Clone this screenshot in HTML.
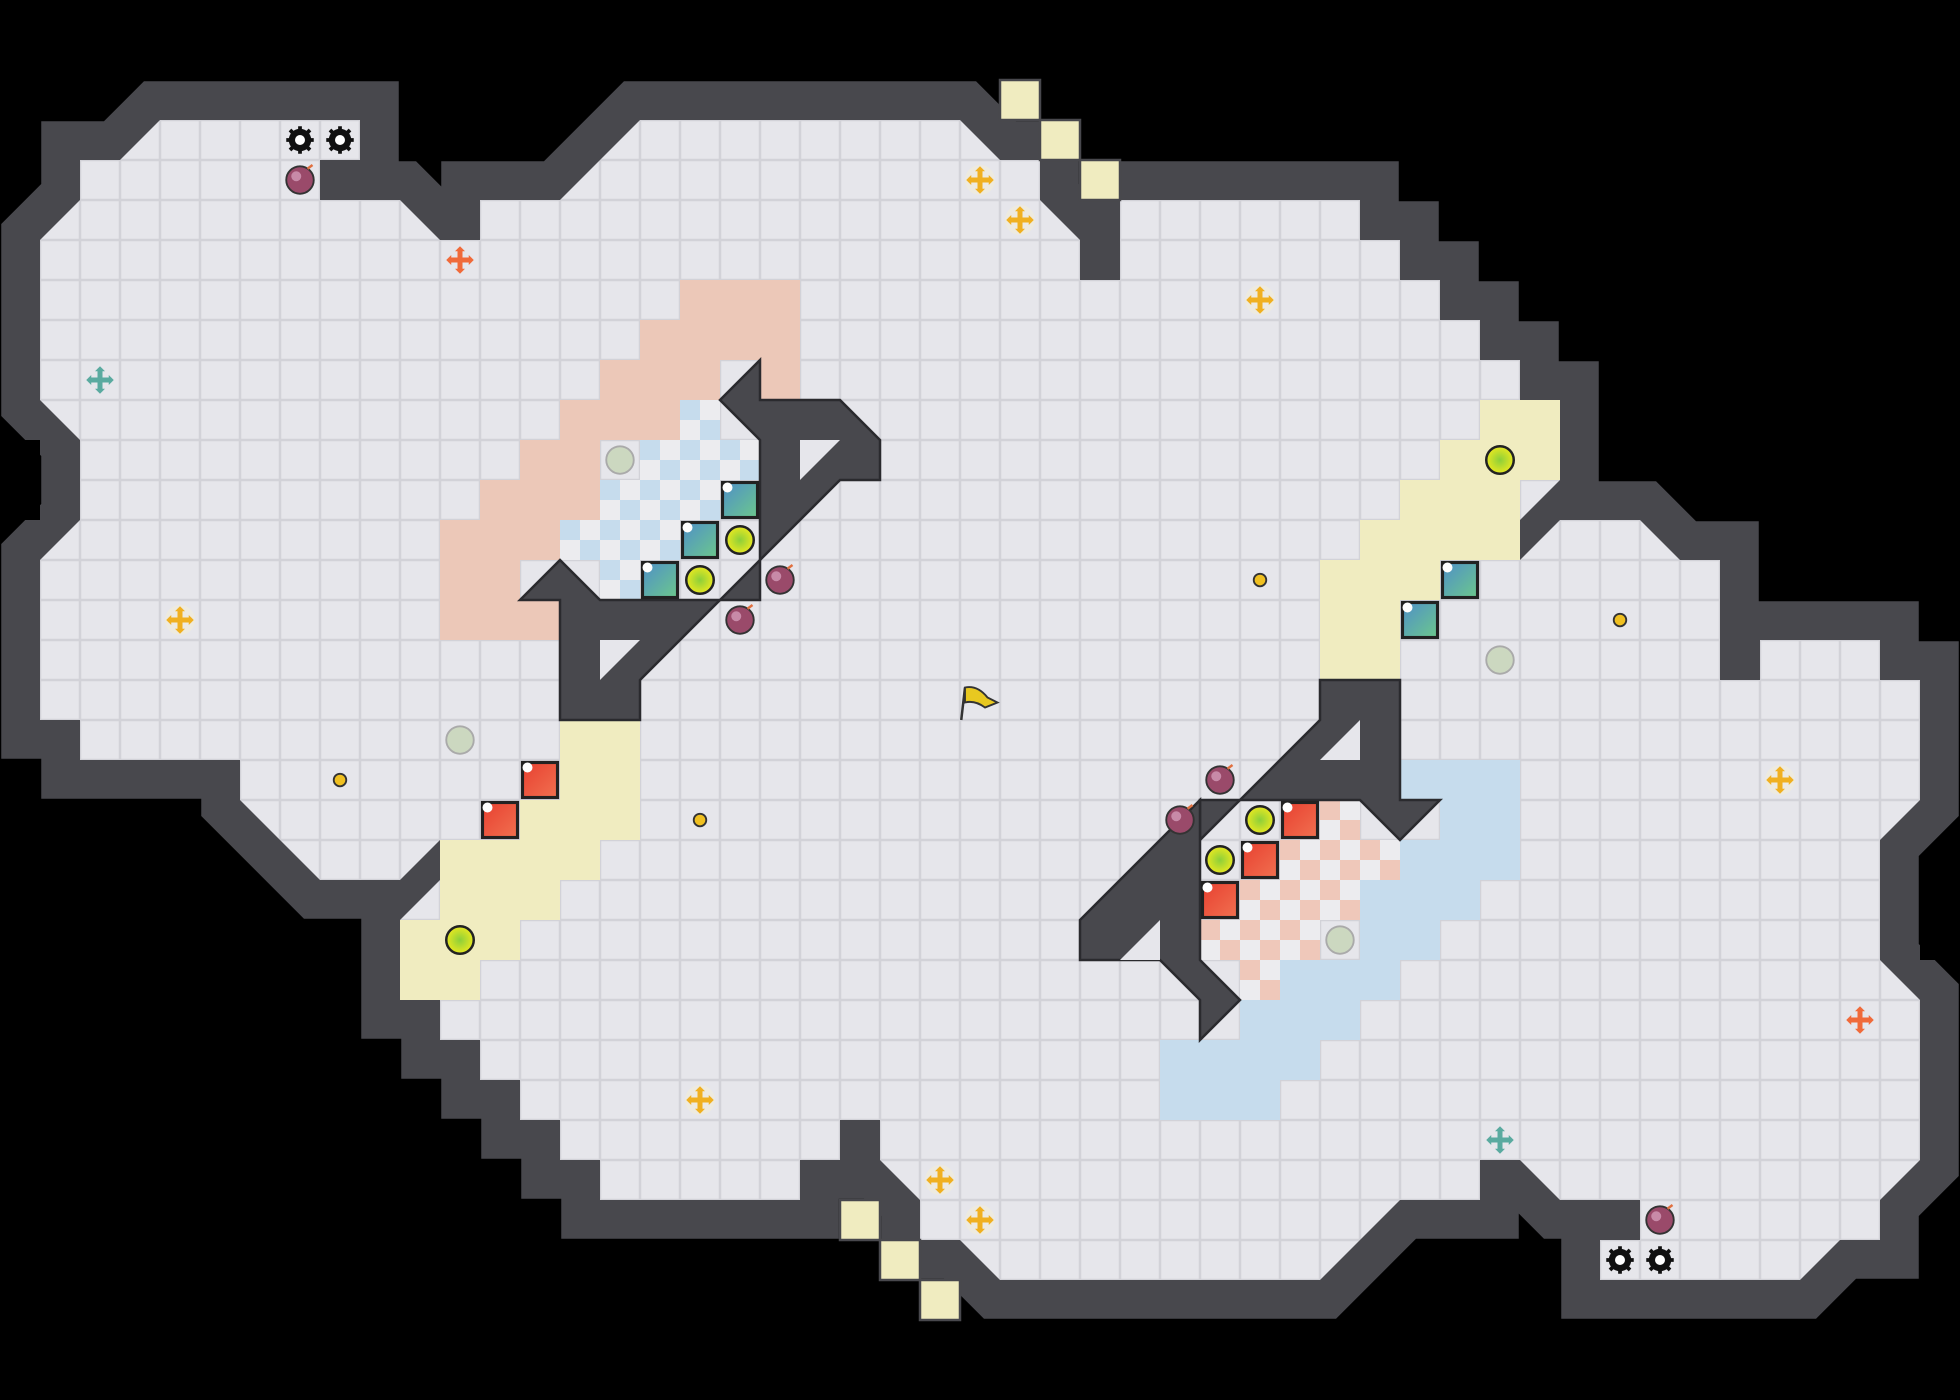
<!DOCTYPE html>
<html><head><meta charset="utf-8"><style>html,body{margin:0;padding:0;background:#000;overflow:hidden}svg{display:block}</style></head><body>
<svg width="1960" height="1400" viewBox="0 0 1568 1120" xmlns="http://www.w3.org/2000/svg">
<defs>
<pattern id="g" width="32" height="32" patternUnits="userSpaceOnUse">
<rect width="32" height="32" fill="#d2d2d8"/>
<rect x="1" y="1" width="30" height="30" fill="#e6e6eb"/>
</pattern>
<pattern id="bc" width="32" height="32" patternUnits="userSpaceOnUse">
<rect width="32" height="32" fill="#ececef"/><rect width="16" height="16" fill="#c6dced"/><rect x="16" y="16" width="16" height="16" fill="#c6dced"/>
</pattern>
<pattern id="sc" width="32" height="32" patternUnits="userSpaceOnUse">
<rect width="32" height="32" fill="#ececef"/><rect width="16" height="16" fill="#efc8ba"/><rect x="16" y="16" width="16" height="16" fill="#efc8ba"/>
</pattern>
<linearGradient id="tb" x1="0" y1="0" x2="1" y2="1"><stop offset="0" stop-color="#4f8fc8"/><stop offset="1" stop-color="#6cc88c"/></linearGradient>
<linearGradient id="rb" x1="0" y1="0" x2="1" y2="1"><stop offset="0" stop-color="#e84030"/><stop offset="1" stop-color="#f07050"/></linearGradient>
<radialGradient id="yb"><stop offset="0" stop-color="#8ccf3a"/><stop offset="1" stop-color="#e8e820"/></radialGradient>
<g id="bomb"><circle r="11" fill="#9a4a6a" stroke="#333" stroke-width="1.5"/><circle cx="-3" cy="-3" r="4" fill="#c88aa8"/><path d="M6,-9 l4,-3" stroke="#e07040" stroke-width="2"/></g>
<g id="yc"><circle r="11" fill="url(#yb)" stroke="#222" stroke-width="2"/></g>
<g id="blue"><rect x="-14" y="-14" width="28" height="28" fill="url(#tb)" stroke="#222" stroke-width="2.5"/><circle cx="-10" cy="-10" r="4" fill="#fff"/></g>
<g id="red"><rect x="-14" y="-14" width="28" height="28" fill="url(#rb)" stroke="#222" stroke-width="2.5"/><circle cx="-10" cy="-10" r="4" fill="#fff"/></g>
<g id="cy"><circle r="12" fill="#f2ecd8" opacity="0.6"/><path d="M-9,0H9M0,-9V9" stroke="#f0b020" stroke-width="4"/><path d="M-11,0l4,-4v8zM11,0l-4,-4v8zM0,-11l-4,4h8zM0,11l-4,-4h8z" fill="#f0b020"/></g>
<g id="co"><path d="M-9,0H9M0,-9V9" stroke="#f06a3a" stroke-width="4"/><path d="M-11,0l4,-4v8zM11,0l-4,-4v8zM0,-11l-4,4h8zM0,11l-4,-4h8z" fill="#f06a3a"/></g>
<g id="ct"><path d="M-9,0H9M0,-9V9" stroke="#5aaaa0" stroke-width="4"/><path d="M-11,0l4,-4v8zM11,0l-4,-4v8zM0,-11l-4,4h8zM0,11l-4,-4h8z" fill="#5aaaa0"/></g>
<g id="gc"><circle r="11" fill="#ccd8c0" stroke="#aaa" stroke-width="1.5"/></g>
<g id="gear"><circle r="9" fill="#111"/><path d="M0,-11V11M-11,0H11M-8,-8L8,8M8,-8L-8,8" stroke="#111" stroke-width="3"/><circle r="4" fill="#fff"/></g>
</defs>
<rect width="1568" height="1120" fill="#000"/>
<polygon points="128,96 288,96 288,128 256,128 256,160 320,160 352,192 384,192 384,160 448,160 512,96 768,96 800,128 832,128 832,160 864,192 864,224 896,224 896,160 1088,160 1088,192 1120,192 1120,224 1152,224 1152,256 1184,256 1184,288 1216,288 1216,320 1248,320 1248,384 1216,416 1216,448 1248,416 1312,416 1344,448 1376,448 1376,544 1408,544 1408,512 1504,512 1504,544 1536,544 1536,640 1504,672 1504,768 1536,800 1536,928 1504,960 1504,992 1472,992 1440,1024 1280,1024 1280,992 1312,992 1312,960 1248,960 1216,928 1184,928 1184,960 1120,960 1056,1024 800,1024 768,992 736,992 736,960 704,928 704,896 672,896 672,928 640,928 640,960 480,960 480,928 448,928 448,896 416,896 416,864 384,864 384,832 352,832 352,800 320,800 320,736 352,704 352,672 320,704 256,704 192,640 192,608 64,608 64,576 32,576 32,448 64,416 64,352 32,320 32,192 64,160 64,128 96,128" fill="#48484d" stroke="#48484d" stroke-width="62" stroke-linejoin="miter"/>
<rect x="0" y="352" width="32" height="64" fill="#000"/>
<rect x="1536" y="704" width="32" height="64" fill="#000"/>
<polygon points="128,96 288,96 288,128 256,128 256,160 320,160 352,192 384,192 384,160 448,160 512,96 768,96 800,128 832,128 832,160 864,192 864,224 896,224 896,160 1088,160 1088,192 1120,192 1120,224 1152,224 1152,256 1184,256 1184,288 1216,288 1216,320 1248,320 1248,384 1216,416 1216,448 1248,416 1312,416 1344,448 1376,448 1376,544 1408,544 1408,512 1504,512 1504,544 1536,544 1536,640 1504,672 1504,768 1536,800 1536,928 1504,960 1504,992 1472,992 1440,1024 1280,1024 1280,992 1312,992 1312,960 1248,960 1216,928 1184,928 1184,960 1120,960 1056,1024 800,1024 768,992 736,992 736,960 704,928 704,896 672,896 672,928 640,928 640,960 480,960 480,928 448,928 448,896 416,896 416,864 384,864 384,832 352,832 352,800 320,800 320,736 352,704 352,672 320,704 256,704 192,640 192,608 64,608 64,576 32,576 32,448 64,416 64,352 32,320 32,192 64,160 64,128 96,128" fill="url(#g)"/>
<g fill="#f0ecc0" stroke="#48484d" stroke-width="2">
<rect x="800" y="64" width="32" height="32"/><rect x="832" y="96" width="32" height="32"/><rect x="864" y="128" width="32" height="32"/>
<rect x="672" y="960" width="32" height="32"/><rect x="704" y="992" width="32" height="32"/><rect x="736" y="1024" width="32" height="32"/>
</g>
<g fill="#ecc8b8">
<rect x="544" y="224" width="96" height="32"/><rect x="512" y="256" width="128" height="32"/><rect x="480" y="288" width="96" height="32"/><rect x="608" y="288" width="32" height="32"/>
<rect x="448" y="320" width="96" height="32"/><rect x="416" y="352" width="64" height="32"/><rect x="384" y="384" width="96" height="32"/><rect x="352" y="416" width="96" height="32"/><rect x="352" y="448" width="64" height="32"/><rect x="352" y="480" width="96" height="32"/>
</g>
<g fill="url(#bc)">
<rect x="544" y="320" width="32" height="32"/><rect x="512" y="352" width="96" height="32"/><rect x="480" y="384" width="96" height="32"/><rect x="448" y="416" width="96" height="32"/><rect x="480" y="448" width="32" height="32"/>
</g>
<g fill="#f0ecc0">
<rect x="448" y="576" width="64" height="64"/><rect x="416" y="640" width="96" height="32"/><rect x="352" y="672" width="128" height="32"/><rect x="352" y="704" width="96" height="32"/><rect x="320" y="736" width="96" height="32"/><rect x="320" y="768" width="64" height="32"/>
<rect x="1184" y="320" width="64" height="32"/><rect x="1152" y="352" width="96" height="32"/><rect x="1120" y="384" width="96" height="64"/><rect x="1088" y="416" width="32" height="32"/><rect x="1056" y="448" width="96" height="32"/><rect x="1056" y="480" width="64" height="64"/>
</g>
<g fill="#c6dced">
<rect x="1120" y="608" width="96" height="32"/><rect x="1152" y="640" width="64" height="32"/><rect x="1120" y="672" width="96" height="32"/><rect x="1088" y="704" width="96" height="32"/><rect x="1088" y="736" width="64" height="32"/><rect x="1024" y="768" width="96" height="32"/><rect x="992" y="800" width="96" height="32"/><rect x="928" y="832" width="128" height="32"/><rect x="928" y="864" width="96" height="32"/>
</g>
<g fill="url(#sc)">
<rect x="1056" y="640" width="32" height="32"/><rect x="1024" y="672" width="96" height="32"/><rect x="992" y="704" width="96" height="32"/><rect x="960" y="736" width="96" height="32"/><rect x="992" y="768" width="32" height="32"/>
</g>
<g fill="#48484d" stroke="#2a2a2e" stroke-width="2">
<polygon points="576,320 608,288 608,320 672,320 704,352 704,384 672,384 608,448 608,352"/>
<polygon points="416,480 448,448 480,480 576,480 512,544 512,576 448,576 448,480"/>
<polygon points="576,480 608,448 608,480"/>
<polygon points="1056,544 1120,544 1120,640 1152,640 1120,672 1088,640 992,640 1056,576"/>
<polygon points="960,640 992,640 960,672"/>
<polygon points="864,736 960,640 960,768 992,800 960,832 960,800 928,768 896,768 864,768"/>
</g>
<g fill="#e6e6eb">
<polygon points="640,352 672,352 640,384"/>
<polygon points="480,512 512,512 480,544"/>
<polygon points="1056,608 1088,576 1088,608"/>
<polygon points="896,768 928,736 928,768"/>
</g>
<use href="#blue" x="592" y="400"/><use href="#blue" x="560" y="432"/><use href="#blue" x="528" y="464"/>
<use href="#blue" x="1168" y="464"/><use href="#blue" x="1136" y="496"/>
<use href="#red" x="432" y="624"/><use href="#red" x="400" y="656"/>
<use href="#red" x="1040" y="656"/><use href="#red" x="1008" y="688"/><use href="#red" x="976" y="720"/>
<use href="#yc" x="592" y="432"/><use href="#yc" x="560" y="464"/><use href="#yc" x="1200" y="368"/><use href="#yc" x="368" y="752"/>
<use href="#yc" x="1008" y="656"/><use href="#yc" x="976" y="688"/>
<use href="#bomb" x="240" y="144"/><use href="#bomb" x="624" y="464"/><use href="#bomb" x="592" y="496"/><use href="#bomb" x="976" y="624"/><use href="#bomb" x="944" y="656"/><use href="#bomb" x="1328" y="976"/>
<use href="#gc" x="496" y="368"/><use href="#gc" x="368" y="592"/><use href="#gc" x="1200" y="528"/><use href="#gc" x="1072" y="752"/>
<use href="#cy" x="784" y="144"/><use href="#cy" x="816" y="176"/><use href="#cy" x="1008" y="240"/><use href="#cy" x="144" y="496"/><use href="#cy" x="1424" y="624"/><use href="#cy" x="560" y="880"/><use href="#cy" x="752" y="944"/><use href="#cy" x="784" y="976"/>
<use href="#co" x="368" y="208"/><use href="#co" x="1488" y="816"/>
<use href="#ct" x="80" y="304"/><use href="#ct" x="1200" y="912"/>
<use href="#gear" x="240" y="112"/><use href="#gear" x="272" y="112"/><use href="#gear" x="1296" y="1008"/><use href="#gear" x="1328" y="1008"/>
<g fill="#f0c020" stroke="#333" stroke-width="1.5"><circle cx="272" cy="624" r="5"/><circle cx="560" cy="656" r="5"/><circle cx="1008" cy="464" r="5"/><circle cx="1296" cy="496" r="5"/></g>
<g><path d="M772,550 L769,576" stroke="#333" stroke-width="2"/><path d="M772,550 q10,-2 18,8 l8,4 -10,4 q-8,-6 -16,-4z" fill="#e8c820" stroke="#333" stroke-width="1.5"/></g>
</svg>
</body></html>
